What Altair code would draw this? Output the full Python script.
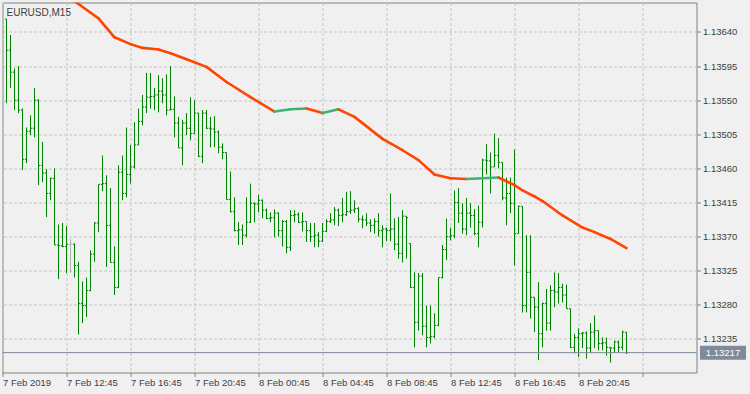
import altair as alt
import pandas as pd

# ---- data (prices in points, 1 point = 0.00001) ----
bar_index = list(range(1, 157))

open_pts = [
    113657, 113616, 113587, 113550, 113537, 113472, 113509, 113513, 113550, 113464,
    113454, 113427, 113447, 113359, 113358, 113357, 113360, 113360, 113332, 113282,
    113279, 113299, 113347, 113388, 113439, 113440, 113385, 113336, 113303, 113455,
    113427, 113452, 113462, 113491, 113522, 113541, 113554, 113555, 113557, 113562,
    113557, 113537, 113538, 113520, 113487, 113520, 113513, 113506, 113533, 113476,
    113533, 113513, 113512, 113508, 113488, 113481, 113419, 113403, 113378, 113379,
    113372, 113389, 113414, 113413, 113418, 113405, 113394, 113395, 113401, 113378,
    113390, 113356, 113398, 113399, 113389, 113390, 113378, 113370, 113372, 113364,
    113377, 113390, 113392, 113405, 113398, 113399, 113403, 113405, 113407, 113393,
    113392, 113388, 113385, 113390, 113378, 113380, 113378, 113380, 113360, 113348,
    113397, 113361, 113303, 113257, 113318, 113252, 113237, 113238, 113253, 113316,
    113353, 113370, 113371, 113415, 113401, 113380, 113401, 113398, 113374, 113389,
    113471, 113470, 113462, 113477, 113468, 113421, 113427, 113414, 113374, 113410,
    113279, 113323, 113290, 113277, 113242, 113282, 113256, 113299, 113297, 113303,
    113293, 113275, 113224, 113237, 113242, 113243, 113223, 113244, 113246, 113229,
    113230, 113224, 113223, 113231, 113224, 113244]

high_pts = [
    113657, 113636, 113592, 113595, 113539, 113514, 113530, 113566, 113551, 113495,
    113459, 113448, 113460, 113386, 113388, 113384, 113367, 113361, 113337, 113311,
    113316, 113352, 113389, 113439, 113477, 113451, 113434, 113357, 113464, 113477,
    113514, 113491, 113521, 113539, 113557, 113586, 113586, 113566, 113583, 113579,
    113584, 113595, 113555, 113528, 113524, 113533, 113554, 113550, 113533, 113537,
    113537, 113528, 113529, 113510, 113493, 113481, 113456, 113422, 113389, 113386,
    113422, 113440, 113415, 113425, 113419, 113407, 113402, 113406, 113402, 113392,
    113392, 113405, 113405, 113402, 113402, 113390, 113388, 113388, 113376, 113388,
    113393, 113401, 113409, 113407, 113421, 113429, 113430, 113418, 113409, 113398,
    113401, 113393, 113394, 113401, 113385, 113382, 113427, 113394, 113396, 113405,
    113397, 113361, 113323, 113322, 113322, 113279, 113279, 113269, 113316, 113359,
    113394, 113382, 113431, 113434, 113414, 113421, 113414, 113406, 113411, 113473,
    113492, 113481, 113506, 113500, 113468, 113448, 113448, 113485, 113411, 113410,
    113372, 113372, 113290, 113310, 113283, 113301, 113306, 113323, 113322, 113308,
    113307, 113275, 113242, 113249, 113244, 113245, 113256, 113266, 113246, 113237,
    113237, 113224, 113233, 113233, 113246, 113244]

low_pts = [
    113546, 113566, 113537, 113533, 113458, 113467, 113504, 113501, 113438, 113442,
    113396, 113418, 113359, 113314, 113356, 113322, 113322, 113316, 113241, 113256,
    113264, 113298, 113337, 113376, 113430, 113330, 113336, 113293, 113302, 113418,
    113422, 113440, 113460, 113491, 113517, 113533, 113539, 113537, 113534, 113546,
    113530, 113537, 113501, 113487, 113464, 113504, 113497, 113506, 113475, 113467,
    113512, 113488, 113488, 113480, 113472, 113419, 113402, 113377, 113359, 113359,
    113369, 113388, 113389, 113402, 113394, 113393, 113389, 113369, 113370, 113357,
    113348, 113351, 113389, 113388, 113377, 113363, 113363, 113356, 113356, 113363,
    113376, 113388, 113385, 113384, 113389, 113397, 113400, 113401, 113389, 113381,
    113384, 113376, 113374, 113370, 113356, 113364, 113364, 113352, 113341, 113336,
    113341, 113302, 113224, 113246, 113240, 113224, 113229, 113236, 113252, 113315,
    113339, 113365, 113368, 113388, 113374, 113372, 113382, 113372, 113356, 113382,
    113452, 113427, 113462, 113460, 113418, 113385, 113401, 113332, 113374, 113270,
    113270, 113262, 113244, 113207, 113224, 113246, 113246, 113277, 113282, 113283,
    113275, 113223, 113216, 113211, 113223, 113209, 113217, 113223, 113220, 113220,
    113213, 113204, 113217, 113217, 113220, 113215]

close_pts = [
    113616, 113587, 113550, 113537, 113472, 113509, 113513, 113550, 113464, 113454,
    113427, 113447, 113359, 113358, 113357, 113360, 113360, 113332, 113282, 113279,
    113299, 113347, 113388, 113439, 113440, 113385, 113336, 113303, 113455, 113427,
    113452, 113462, 113491, 113522, 113541, 113554, 113555, 113557, 113562, 113557,
    113537, 113538, 113520, 113487, 113520, 113513, 113506, 113533, 113476, 113533,
    113513, 113512, 113508, 113488, 113481, 113419, 113403, 113378, 113379, 113372,
    113389, 113414, 113413, 113418, 113405, 113394, 113395, 113401, 113378, 113390,
    113356, 113398, 113399, 113389, 113390, 113378, 113370, 113372, 113364, 113377,
    113390, 113392, 113405, 113398, 113399, 113403, 113405, 113407, 113393, 113392,
    113388, 113385, 113390, 113378, 113380, 113378, 113380, 113360, 113348, 113397,
    113395, 113303, 113257, 113318, 113252, 113237, 113238, 113253, 113316, 113353,
    113370, 113371, 113415, 113401, 113380, 113401, 113398, 113374, 113389, 113471,
    113470, 113462, 113477, 113468, 113421, 113427, 113414, 113374, 113410, 113279,
    113323, 113290, 113277, 113242, 113282, 113256, 113299, 113297, 113303, 113293,
    113275, 113224, 113237, 113242, 113243, 113223, 113244, 113246, 113229, 113230,
    113224, 113223, 113231, 113224, 113244, 113217]

# moving average, read at these bar indices
ma_index = [17, 19, 24, 28, 32, 35, 39, 42, 46, 51, 56, 62, 68, 72, 76, 80, 84, 88,
            95, 100, 104, 108, 112, 116, 120, 124, 128, 130, 133, 135, 140, 145,
            148, 152, 156]
ma_pts = [113684, 113677, 113658, 113633, 113624, 113619, 113617, 113612, 113604,
          113594, 113574, 113554, 113535, 113538, 113539, 113533, 113538, 113528,
          113499, 113484, 113471, 113452, 113447, 113446, 113447, 113448, 113438,
          113431, 113423, 113417, 113398, 113382, 113376, 113367, 113355]

y_ticks = [1.13235, 1.13280, 1.13325, 1.13370, 1.13415, 1.13460, 1.13505,
           1.13550, 1.13595, 1.13640]
x_tick_index = [0, 16, 32, 48, 64, 80, 96, 112, 128, 144]
x_tick_labels = ["7 Feb 2019", "7 Feb 12:45", "7 Feb 16:45", "7 Feb 20:45",
                 "8 Feb 00:45", "8 Feb 04:45", "8 Feb 08:45", "8 Feb 12:45",
                 "8 Feb 16:45", "8 Feb 20:45"]
x_grid_index = list(range(0, 174, 8))
current_price = 1.13217
symbol_title = "EURUSD,M15"

# ---- tables ----
bars = pd.DataFrame({
    "k": bar_index,
    "o": [v / 1e5 for v in open_pts],
    "h": [v / 1e5 for v in high_pts],
    "l": [v / 1e5 for v in low_pts],
    "c": [v / 1e5 for v in close_pts],
    "kind": ["doji" if o == c else "bar" for o, c in zip(open_pts, close_pts)],
})

seg_rows = []
for i in range(len(ma_index) - 1):
    seg_rows.append({
        "k": ma_index[i], "k2": ma_index[i + 1],
        "v": ma_pts[i] / 1e5, "v2": ma_pts[i + 1] / 1e5,
        "kind": "up" if ma_pts[i + 1] > ma_pts[i] else "down",
    })
segs = pd.DataFrame(seg_rows)
price_df = pd.DataFrame({"p": [current_price], "t": [f"{current_price:.5f}"]})
title_df = pd.DataFrame({"t": [symbol_title]})

FONT = "Liberation Sans"
FS = 9.5
TXT = "#404040"
GRID = "#C4C4C4"

label_expr = " : ".join(
    f"datum.value === {i} ? '{lab}'" for i, lab in zip(x_tick_index, x_tick_labels)
) + " : ''"

xscale = alt.Scale(domain=[0, 173.5], nice=False, zero=False)
yscale = alt.Scale(domain=[1.131908, 1.136789], nice=False, zero=False)
cscale = alt.Scale(domain=["bar", "doji", "down", "up"],
                   range=["#008000", "#AFAFAF", "#FF4500", "#3CB371"])

x_axis = alt.Axis(values=x_grid_index, grid=True, gridColor=GRID, gridDash=[3, 2],
                  labelExpr=label_expr, domain=False, tickSize=4,
                  tickColor="#808080",
                  tickOpacity={"condition": {"test": "datum.value % 16 === 0", "value": 1}, "value": 0},
                  labelAlign="left", labelBaseline="top", labelPadding=1,
                  labelFont=FONT, labelFontSize=FS, labelColor=TXT,
                  labelOverlap=False, labelFlush=False, title=None)
y_axis = alt.Axis(orient="right", values=y_ticks, format=".5f", grid=True,
                  gridColor=GRID, gridDash=[3, 2], domain=False, tickSize=4,
                  tickColor="#808080", labelPadding=2, labelFont=FONT,
                  labelFontSize=FS, labelColor=TXT, title=None)

base = alt.Chart(bars)

wicks = base.mark_rule(strokeWidth=1).encode(
    x=alt.X("k:Q", scale=xscale, axis=x_axis),
    y=alt.Y("l:Q", scale=yscale, axis=y_axis),
    y2="h:Q",
    color=alt.Color("kind:N", scale=cscale, legend=None),
)
open_tick = base.transform_calculate(k0="datum.k - 0.4").mark_rule(strokeWidth=1).encode(
    x="k0:Q", x2="k:Q", y="o:Q",
    color=alt.Color("kind:N", scale=cscale, legend=None),
)
close_tick = base.transform_calculate(k1="datum.k + 0.4").mark_rule(strokeWidth=1).encode(
    x="k:Q", x2="k1:Q", y="c:Q",
    color=alt.Color("kind:N", scale=cscale, legend=None),
)
ma = alt.Chart(segs).mark_rule(strokeWidth=2.6, strokeCap="round", clip=True).encode(
    x="k:Q", x2="k2:Q", y="v:Q", y2="v2:Q",
    color=alt.Color("kind:N", scale=cscale, legend=None),
)
pline = alt.Chart(price_df).mark_rule(strokeWidth=1, color="#7F8A9A").encode(
    x=alt.value(0), x2=alt.value(694), y="p:Q")
pbox = alt.Chart(price_df).mark_rule(strokeWidth=14, color="#7F8A9A", clip=False).encode(
    x=alt.value(697.5), x2=alt.value(743.5), y="p:Q")
ptext = alt.Chart(price_df).mark_text(color="white", font=FONT, fontSize=FS,
                                      align="center", baseline="middle", clip=False).encode(
    x=alt.value(720.5), y="p:Q", text="t:N")
title = alt.Chart(title_df).mark_text(color=TXT, font=FONT, fontSize=FS + 0.5,
                                      align="left", baseline="middle").encode(
    x=alt.value(4), y=alt.value(10.5), text="t:N")

chart = alt.layer(wicks, open_tick, close_tick, ma, pline, pbox, ptext, title).properties(
    width=694, height=370,
    autosize=alt.AutoSizeParams(type="none"),
    padding={"left": 2.5, "top": 2.5, "right": 53.5, "bottom": 21.5},
    background="#F0F0F0",
).configure_view(stroke="#808080", strokeWidth=1, fill="#F0F0F0")

chart.save("out.html", embed_options={"renderer": "svg", "actions": False})
